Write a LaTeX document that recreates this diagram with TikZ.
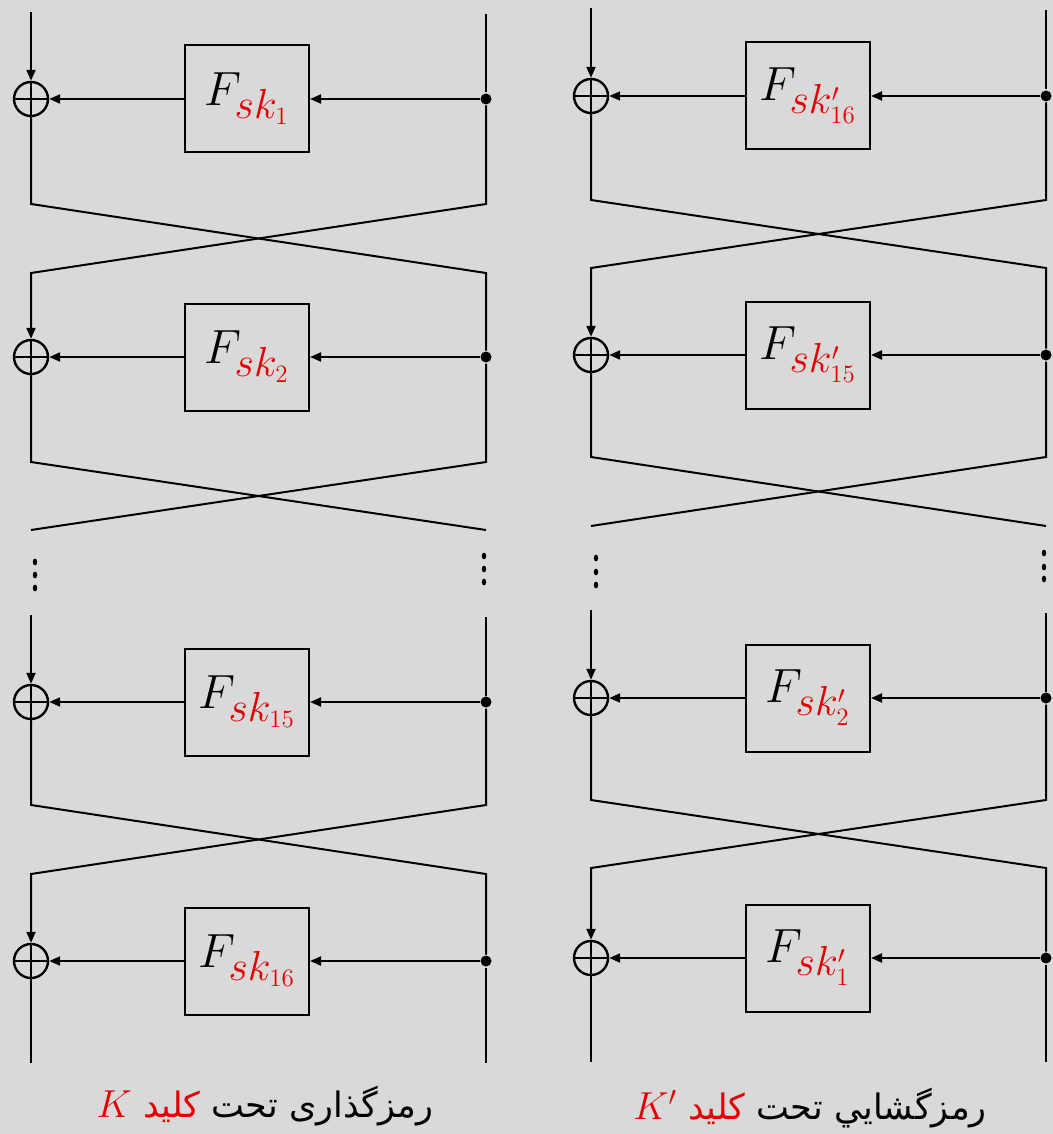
\RequirePackage{fix-cm}
\documentclass[tikz,border=0pt]{standalone}
\usepackage{fontspec}
\usetikzlibrary{arrows.meta}
\newfontfamily\persianfont[Script=Arabic]{DejaVu Sans}
\TeXXeTstate=1
\DeclareMathSizes{24}{24}{21}{12.5}
\definecolor{bg}{RGB}{217,217,217}
\definecolor{keyred}{RGB}{228,0,0}

% one Feistel round: #1 name, #2 left wire x, #3 right wire x, #4 row y, #5 box x, #6 label
\newcommand\feistround[6]{%
  \node[xorn] (#1x) at (#2,#4) {};
  \node[fbox] (#1f) at (#5,#4) {#6};
  \node[dotn] (#1d) at (#3,#4) {};
  \draw[arr] (#1d) -- (#1f);
  \draw[arr] (#1f) -- (#1x);
}
% key symbol in the captions
\newcommand\capkey[1]{\textcolor{keyred}{\fontsize{19.5}{22}\selectfont$#1$}}

\tikzset{
  xorn/.style={circle, draw, line width=1.2pt, minimum size=17pt, inner sep=0pt,
    path picture={\draw[line width=1.2pt]
      (path picture bounding box.north) -- (path picture bounding box.south)
      (path picture bounding box.west) -- (path picture bounding box.east);}},
  fbox/.style={draw, minimum width=62pt, minimum height=53.5pt, inner sep=0pt,
    font=\fontsize{24}{28}\selectfont},
  dotn/.style={circle, fill, inner sep=0pt, minimum size=5.5pt},
  arr/.style={-{Triangle[length=5.5pt,width=4.5pt]}},
  caption/.style={font=\persianfont\fontsize{17.5}{22}\selectfont, inner sep=0pt},
}

\begin{document}
\begin{tikzpicture}[x=0.5pt, y=-0.5pt, line width=1pt]
\fill[bg] (0,0) rectangle (1053,1134);
\useasboundingbox (0,0) rectangle (1053,1134);

% ---------- encryption network ----------
\feistround{a}{31}{486}{99}{247}{$F_{\color{keyred}sk_{1}}$}
\feistround{b}{31}{486}{357}{247}{$F_{\color{keyred}sk_{2}}$}
\feistround{c}{31}{486}{702}{247}{$F_{\color{keyred}sk_{15}}$}
\feistround{d}{31}{486}{961}{247}{$F_{\color{keyred}sk_{16}}$}

\coordinate (aIn) at (31,12);   \coordinate (aInR) at (486,14);
\coordinate (aL) at (31,204);   \coordinate (aR) at (486,204);
\coordinate (bL) at (31,273);   \coordinate (bR) at (486,273);
\coordinate (bLo) at (31,462);  \coordinate (bRo) at (486,462);
\coordinate (bLe) at (31,530);  \coordinate (bRe) at (486,530);
\coordinate (cIn) at (31,615);  \coordinate (cInR) at (486,617);
\coordinate (cL) at (31,805);   \coordinate (cR) at (486,805);
\coordinate (dL) at (31,874);   \coordinate (dR) at (486,874);
\coordinate (dLo) at (31,1063); \coordinate (dRo) at (486,1063);

\draw[arr] (aIn) -- (ax);
\draw (aInR) -- (ad);
\draw (ax) -- (aL) -- (bR) -- (bd);
\draw[arr] (ad) -- (aR) -- (bL) -- (bx);
\draw (bx) -- (bLo) -- (bRe);
\draw (bd) -- (bRo) -- (bLe);
\draw[arr] (cIn) -- (cx);
\draw (cInR) -- (cd);
\draw (cx) -- (cL) -- (dR) -- (dd);
\draw[arr] (cd) -- (cR) -- (dL) -- (dx);
\draw (dx) -- (dLo);
\draw (dd) -- (dRo);

\foreach \y in {562,575,588} \fill (35,\y) ellipse [x radius=1.1pt, y radius=1.7pt];
\foreach \y in {556,569,582} \fill (484,\y) ellipse [x radius=1.1pt, y radius=1.7pt];

% caption, placed word group by word group from left to right
\node[caption] (encCap) at (265,1106)
  {\capkey{K} \textcolor{keyred}{\beginR کلید\endR} \beginR رمزگذاری تحت\endR};

% ---------- decryption network ----------
\feistround{e}{591}{1046}{96}{808}{$F_{\color{keyred}sk'_{16}}$}
\feistround{f}{591}{1046}{355}{808}{$F_{\color{keyred}sk'_{15}}$}
\feistround{g}{591}{1046}{698}{808}{$F_{\color{keyred}sk'_{2}}$}
\feistround{h}{591}{1046}{958}{808}{$F_{\color{keyred}sk'_{1}}$}

\coordinate (eIn) at (591,8);    \coordinate (eInR) at (1046,10);
\coordinate (eL) at (591,200);   \coordinate (eR) at (1046,200);
\coordinate (fL) at (591,268);   \coordinate (fR) at (1046,268);
\coordinate (fLo) at (591,457);  \coordinate (fRo) at (1046,457);
\coordinate (fLe) at (591,526);  \coordinate (fRe) at (1046,526);
\coordinate (gIn) at (591,610);  \coordinate (gInR) at (1046,613);
\coordinate (gL) at (591,800);   \coordinate (gR) at (1046,800);
\coordinate (hL) at (591,868);   \coordinate (hR) at (1046,868);
\coordinate (hLo) at (591,1062); \coordinate (hRo) at (1046,1062);

\draw[arr] (eIn) -- (ex);
\draw (eInR) -- (ed);
\draw (ex) -- (eL) -- (fR) -- (fd);
\draw[arr] (ed) -- (eR) -- (fL) -- (fx);
\draw (fx) -- (fLo) -- (fRe);
\draw (fd) -- (fRo) -- (fLe);
\draw[arr] (gIn) -- (gx);
\draw (gInR) -- (gd);
\draw (gx) -- (gL) -- (hR) -- (hd);
\draw[arr] (gd) -- (gR) -- (hL) -- (hx);
\draw (hx) -- (hLo);
\draw (hd) -- (hRo);

\foreach \y in {558,572,585} \fill (596,\y) ellipse [x radius=1.1pt, y radius=1.7pt];
\foreach \y in {553,567,579} \fill (1044,\y) ellipse [x radius=1.1pt, y radius=1.7pt];

\node[caption] (decCap) at (810,1108)
  {\capkey{K'} \textcolor{keyred}{\beginR کلید\endR} \beginR رمزگشايي تحت\endR};
\end{tikzpicture}
\end{document}
